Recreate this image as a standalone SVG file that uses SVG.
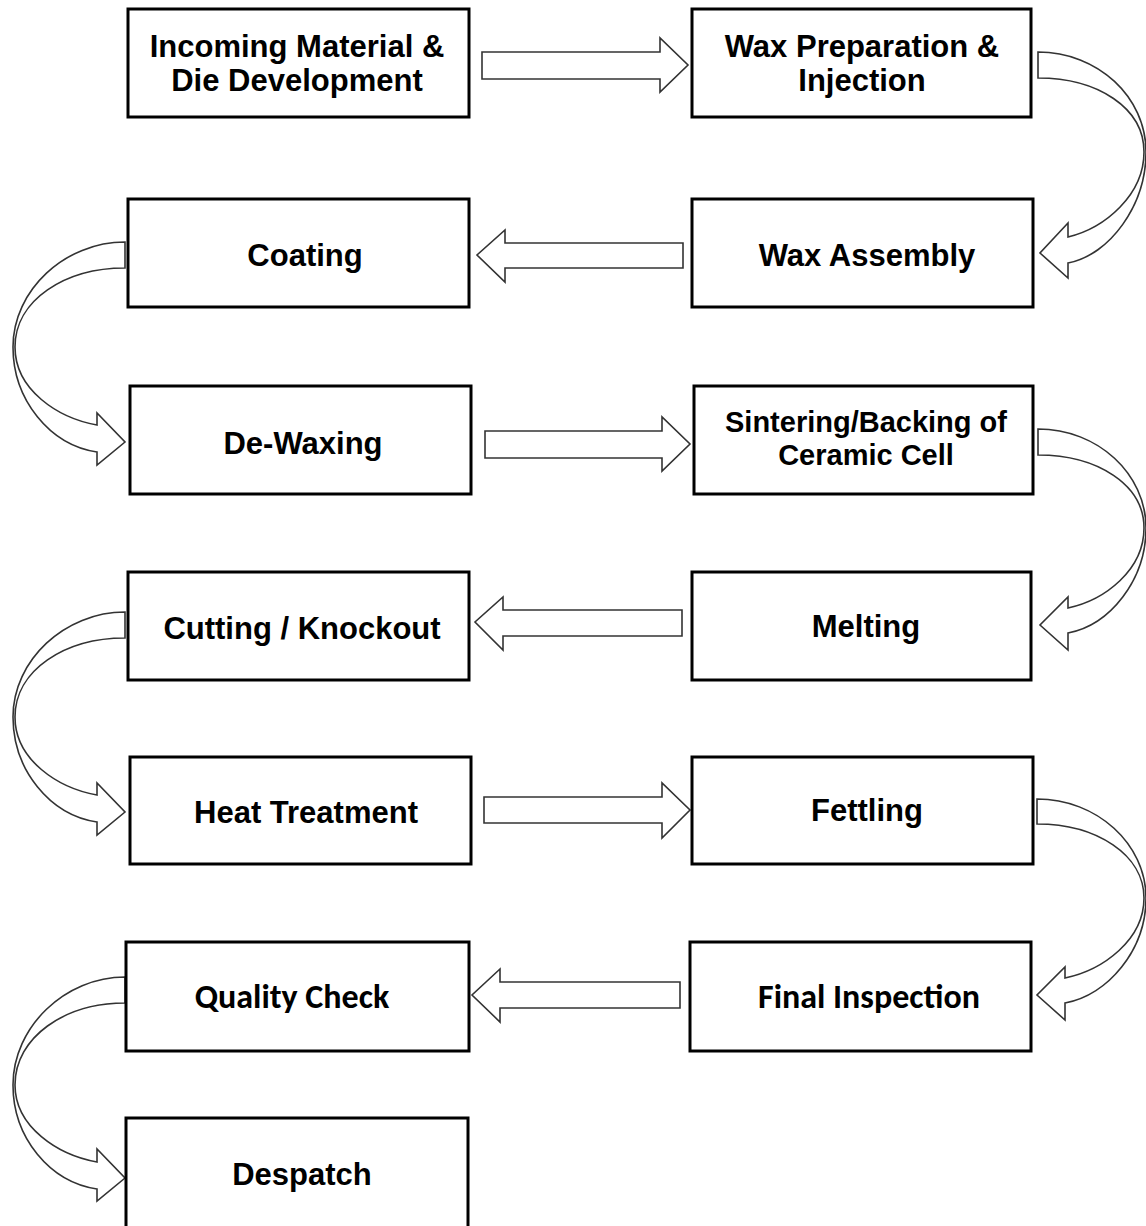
<svg xmlns="http://www.w3.org/2000/svg" width="1146" height="1226" viewBox="0 0 1146 1226">
<style>
.box{fill:#fff;stroke:#000;stroke-width:3}
.t{font-family:"Liberation Sans",Arial,sans-serif;font-weight:bold;font-size:31px;fill:#000;text-anchor:middle}
.s{font-size:29px}
.c{font-family:Carlito,Lato,"Open Sans",sans-serif;font-weight:bold;font-size:34px;fill:#000;text-anchor:middle}
.a{fill:#fff;stroke:#333;stroke-width:1.6;stroke-linejoin:miter}
</style>
<rect width="1146" height="1226" fill="#fff"/>
<g id="connectors">
<path class="a" d="M482,52 L660,52 L660,38 L688,65 L660,92 L660,79 L482,79 Z"/>
<path class="a" d="M1038,52 C1098,52 1146,97 1146,152 C1146,205 1110,255 1068,263 L1068,278 L1040,253 L1068,223 L1068,237 C1105,228 1144,195 1144,152 C1144,108 1098,78 1038,78 Z"/>
<path class="a" d="M683,243 L505,243 L505,230 L477,255 L505,282 L505,268 L683,268 Z"/>
<path class="a" d="M125,242 C65,242 13,290 13,347 C13,400 50,445 97,452 L97,465 L125,442 L97,413 L97,425 C58,418 15,390 15,347 C15,300 65,268 125,268 Z"/>
<path class="a" d="M485,431 L662,431 L662,417 L690,444 L662,471 L662,458 L485,458 Z"/>
<path class="a" d="M1038,429 C1098,429 1146,474 1146,528 C1146,580 1110,625 1068,633 L1068,650 L1040,625 L1068,597 L1068,608 C1105,600 1144,570 1144,528 C1144,485 1098,455 1038,455 Z"/>
<path class="a" d="M682,610 L503,610 L503,597 L475,622 L503,650 L503,636 L682,636 Z"/>
<path class="a" d="M125,612 C65,612 13,660 13,717 C13,770 50,815 97,822 L97,835 L125,812 L97,783 L97,795 C58,788 15,760 15,717 C15,670 65,638 125,638 Z"/>
<path class="a" d="M484,797 L662,797 L662,783 L690,810 L662,838 L662,823 L484,823 Z"/>
<path class="a" d="M1037,799 C1097,799 1146,844 1146,898 C1146,950 1108,995 1065,1003 L1065,1020 L1037,995 L1065,967 L1065,978 C1103,970 1144,940 1144,898 C1144,855 1097,824 1037,824 Z"/>
<path class="a" d="M680,982 L500,982 L500,969 L472,995 L500,1022 L500,1008 L680,1008 Z"/>
<path class="a" d="M125,977 C65,977 13,1027 13,1085 C13,1138 50,1182 97,1189 L97,1201 L125,1178 L97,1149 L97,1162 C58,1155 15,1127 15,1085 C15,1037 65,1003 125,1003 Z"/>
</g>
<g id="n1"><rect class="box" x="128" y="9" width="341" height="108"/><text class="t" x="297" y="57">Incoming Material &amp;</text><text class="t" x="297" y="91">Die Development</text></g>
<g id="n2"><rect class="box" x="692" y="9" width="339" height="108"/><text class="t" x="862" y="57">Wax Preparation &amp;</text><text class="t" x="862" y="91">Injection</text></g>
<g id="n3"><rect class="box" x="692" y="199" width="341" height="108"/><text class="t" x="867" y="266">Wax Assembly</text></g>
<g id="n4"><rect class="box" x="128" y="199" width="341" height="108"/><text class="t" x="305" y="266">Coating</text></g>
<g id="n5"><rect class="box" x="130" y="386" width="341" height="108"/><text class="t" x="303" y="454">De-Waxing</text></g>
<g id="n6"><rect class="box" x="694" y="386" width="339" height="108"/><text class="t s" x="866" y="432">Sintering/Backing of</text><text class="t s" x="866" y="465">Ceramic Cell</text></g>
<g id="n7"><rect class="box" x="692" y="572" width="339" height="108"/><text class="t" x="866" y="637">Melting</text></g>
<g id="n8"><rect class="box" x="128" y="572" width="341" height="108"/><text class="t" x="302" y="639">Cutting / Knockout</text></g>
<g id="n9"><rect class="box" x="130" y="757" width="341" height="107"/><text class="t" x="306" y="823">Heat Treatment</text></g>
<g id="n10"><rect class="box" x="692" y="757" width="341" height="107"/><text class="t" x="867" y="821">Fettling</text></g>
<g id="n11"><rect class="box" x="690" y="942" width="341" height="109"/><text class="c" x="869" y="1008">Final Inspection</text></g>
<g id="n12"><rect class="box" x="126" y="942" width="343" height="109"/><text class="c" x="292" y="1008">Quality Check</text></g>
<g id="n13"><rect class="box" x="126" y="1118" width="342" height="120"/><text class="t" x="302" y="1185">Despatch</text></g>
</svg>
